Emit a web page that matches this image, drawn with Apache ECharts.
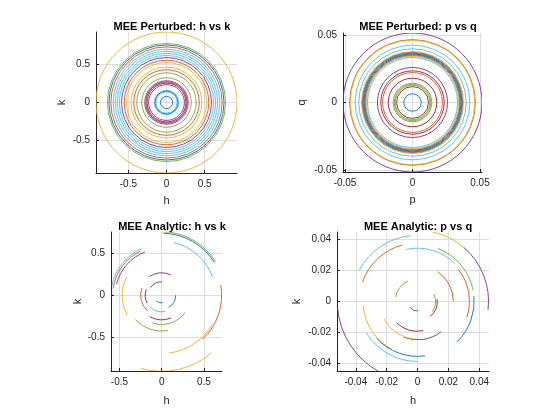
<!DOCTYPE html>
<html>
<head>
<meta charset="utf-8">
<script src="https://cdn.jsdelivr.net/npm/echarts@6/dist/echarts.min.js"></script>
<style>
    html, body {margin: 0; padding: 0; background: #fff;}
    #main {width: 560px; height: 420px;}
</style>
</head>
<body>
<div id="main"></div>
<script>
// MATLAB default line colour order, picked by orbit number
var aLineColor = ['#0072BD', '#D95319', '#EDB120', '#7E2F8E', '#77AC30', '#4DBEEE', '#A2142F'];

// perturbed h-k circles: [radius, orbit]
var aHkPerturbed = [
    [0.925, 2], [0.775, 4], [0.755, 0], [0.73, 1],
    [0.70, 5], [0.672, 5], [0.645, 5], [0.618, 5], [0.59, 3], [0.555, 1], [0.525, 2],
    [0.465, 2], [0.43, 1], [0.39, 4], [0.325, 4], [0.285, 3], [0.27, 6], [0.255, 6],
    [0.235, 3], [0.16, 5], [0.15, 0], [0.14, 5], [0.08, 0]
];
// perturbed p-q circles: [radius, orbit]
var aPqPerturbed = [
    [0.0515, 3], [0.0466, 1], [0.0462, 2], [0.0425, 5], [0.0398, 5], [0.0378, 2], [0.0372, 1],
    [0.0366, 0], [0.036, 0], [0.0354, 0], [0.0348, 1], [0.0342, 2], [0.0334, 5], [0.026, 3],
    [0.0235, 6], [0.0222, 1], [0.018, 6], [0.0143, 4], [0.0135, 4], [0.0128, 4], [0.0118, 6],
    [0.0065, 0]
];
// analytic h-k arcs: [radius, from deg, to deg, orbit]
var aHkAnalytic = [
    [0.60, 113, 169, 5], [0.58, 116, 172, 1], [0.55, 111, 166, 3], [0.47, 152, 210, 2],
    [0.752, 32, 90, 4], [0.735, 32, 88, 0], [0.64, 20, 77, 5], [0.71, -47, 10, 1],
    [0.69, -83, -31, 2], [0.9, -106, -49, 2], [0.345, -109, -36, 4], [0.425, -137, -80, 4],
    [0.29, -119, -67, 6], [0.195, -135, -78, 5], [0.165, -60, 0, 0], [0.09, -131, -82, 0],
    [0.265, 66, 123, 3], [0.16, 88, 145, 3], [0.195, 159, 209, 6], [0.25, 160, 228, 1]
];
// analytic p-q arcs: [radius, from deg, to deg, orbit]
var aPqAnalytic = [
    [0.0428, 96, 152, 5], [0.0378, 105, 161, 1], [0.0344, 45, 102, 5], [0.046, 45, 78, 2],
    [0.046, -7, 49, 3], [0.0367, 11, 69, 4], [0.0367, -46, 5, 0], [0.0336, -18, 38, 1],
    [0.0232, 0, 56, 1], [0.0145, 115, 169, 4], [0.0116, -36, 24, 4], [0.0128, -51, 6, 6],
    [0.0063, -142, -86, 0], [0.0194, -134, -79, 6], [0.025, -111, -52, 3], [0.0353, -175, -118, 2],
    [0.0357, -138, -82, 0], [0.039, -148, -90, 5], [0.052, -175, -119, 3], [0.0246, -152, -94, 2]
];

var aTicksHkTop = [-0.5, 0, 0.5];
var aTicksPqTop = [-0.05, 0, 0.05];
var aTicksHkBot = [-0.5, 0, 0.5];
var aTicksPqBot = [-0.04, -0.02, 0, 0.02, 0.04];

var sFont = 'Liberation Sans';

// 整圆 -> 0..360 的弧
function ToFullCircle(aCircle) {
    return aCircle.map(function (item) { return [item[0], 0, 360, item[1]]; });
}

function RenderArc(params, api) {
    var aCenter = api.coord([0, 0]);
    var r = api.size([api.value(0), 0])[0];
    var d2r = Math.PI / 180;
    return {
        type: 'arc',
        shape: {
            cx: aCenter[0], cy: aCenter[1], r: r,
            startAngle: -api.value(2) * d2r,
            endAngle: -api.value(1) * d2r,
            clockwise: true
        },
        style: {stroke: aLineColor[api.value(3) % 7], fill: 'none', lineWidth: 0.9}
    };
}

function MakeAxis(iGrid, fMin, fMax, aTicks, sName, iGap) {
    return {
        type: 'value', gridIndex: iGrid, min: fMin, max: fMax,
        name: sName, nameLocation: 'middle', nameGap: iGap,
        nameTextStyle: {fontFamily: sFont, fontSize: 11, color: '#262626'},
        axisLine: {show: true, onZero: false, lineStyle: {color: '#262626', width: 1}},
        axisTick: {show: true, inside: true, length: 3, customValues: aTicks, lineStyle: {color: '#262626'}},
        axisLabel: {customValues: aTicks, fontFamily: sFont, fontSize: 10, color: '#262626', margin: 6},
        splitLine: {show: true, lineStyle: {color: '#dedede', width: 1}}
    };
}

function MakeTitle(sText, x, y) {
    return {
        text: sText, left: x, top: y, textAlign: 'center',
        textStyle: {fontFamily: sFont, fontSize: 11, fontWeight: 'bold', color: '#000'}
    };
}

function MakeSeries(iIdx, aData) {
    return {
        type: 'custom', coordinateSystem: 'cartesian2d',
        xAxisIndex: iIdx, yAxisIndex: iIdx, clip: true, silent: true,
        renderItem: RenderArc, data: aData
    };
}

var jOption = {
    animation: false,
    backgroundColor: '#fff',
    title: [
        MakeTitle('MEE Perturbed: h vs k', 167, 16),
        MakeTitle('MEE Perturbed: p vs q', 413, 16),
        MakeTitle('MEE Analytic: h vs k', 167, 216),
        MakeTitle('MEE Analytic: p vs q', 413, 216)
    ],
    grid: [
        {left: 96, top: 32, width: 141, height: 141},
        {left: 343, top: 33, width: 139, height: 139},
        {left: 111, top: 232, width: 111, height: 139},
        {left: 337, top: 232, width: 152, height: 139}
    ],
    xAxis: [
        MakeAxis(0, -0.925, 0.925, aTicksHkTop, 'h', 22),
        MakeAxis(1, -0.0515, 0.0515, aTicksPqTop, 'p', 22),
        MakeAxis(2, -0.60, 0.714, aTicksHkBot, 'h', 24),
        MakeAxis(3, -0.0522, 0.0463, aTicksPqBot, 'h', 24)
    ],
    yAxis: [
        MakeAxis(0, -0.925, 0.925, aTicksHkTop, 'k', 29),
        MakeAxis(1, -0.0515, 0.0515, aTicksPqTop, 'q', 36),
        MakeAxis(2, -0.90, 0.752, aTicksHkBot, 'k', 28),
        MakeAxis(3, -0.0452, 0.0449, aTicksPqBot, 'k', 35)
    ],
    series: [
        MakeSeries(0, ToFullCircle(aHkPerturbed)),
        MakeSeries(1, ToFullCircle(aPqPerturbed)),
        MakeSeries(2, aHkAnalytic),
        MakeSeries(3, aPqAnalytic)
    ]
};

var myChart = echarts.init(document.getElementById('main'));
myChart.setOption(jOption);
</script>
</body>
</html>
